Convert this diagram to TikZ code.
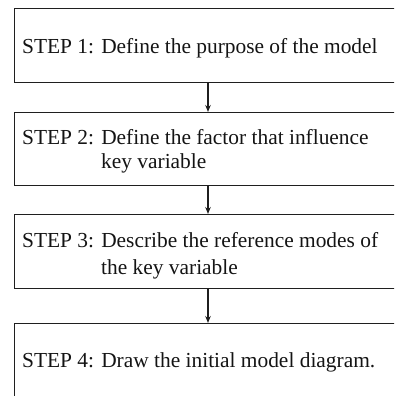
\documentclass[tikz,border=0pt]{standalone}
\usepackage{fontspec}
\setmainfont{Liberation Serif}
\usetikzlibrary{arrows.meta}
\begin{document}
\begin{tikzpicture}[x=1pt,y=1pt,
  stepbox/.style={draw=black!88, line width=1.3pt, rectangle, inner sep=0pt, anchor=north west},
  steptext/.style={anchor=base west, inner sep=0pt, font=\fontsize{21.4}{24}\selectfont, text=black!92},
  flow/.style={draw=black!88, line width=1.3pt, -{Stealth[length=7pt,width=5.5pt]}}]
  \useasboundingbox (0,0) rectangle (394,-396);
  \clip (0,0) rectangle (394,-396);
  % boxes run past the right and bottom page edges
  \node[stepbox, minimum width=400pt, minimum height=74pt] (s1) at (14,-8) {};
  \node[stepbox, minimum width=400pt, minimum height=73pt] (s2) at (14,-112) {};
  \node[stepbox, minimum width=400pt, minimum height=74pt] (s3) at (14,-214) {};
  \node[stepbox, minimum width=400pt, minimum height=100pt] (s4) at (14,-323) {};
  % step labels; continuation lines hang under the first word after the colon
  \node[steptext] (t1) at (22,-54) {STEP 1: Define the purpose of the model};
  \node[steptext] (t2) at (22,-144) {STEP 2: Define the factor that influence};
  \node[steptext] (t2b) at (t2.base west -| 101,0) [yshift=-24pt] {key variable};
  \node[steptext] (t3) at (22,-247) {STEP 3: Describe the reference modes of};
  \node[steptext] (t3b) at (t3.base west -| 101,0) [yshift=-27pt] {the key variable};
  \node[steptext] (t4) at (22,-367) {STEP 4: Draw the initial model diagram.};
  % connectors
  \draw[flow] ([xshift=194pt]s1.south west) -- ([xshift=194pt]s2.north west);
  \draw[flow] ([xshift=194pt]s2.south west) -- ([xshift=194pt]s3.north west);
  \draw[flow] ([xshift=194pt]s3.south west) -- ([xshift=194pt]s4.north west);
\end{tikzpicture}
\end{document}
